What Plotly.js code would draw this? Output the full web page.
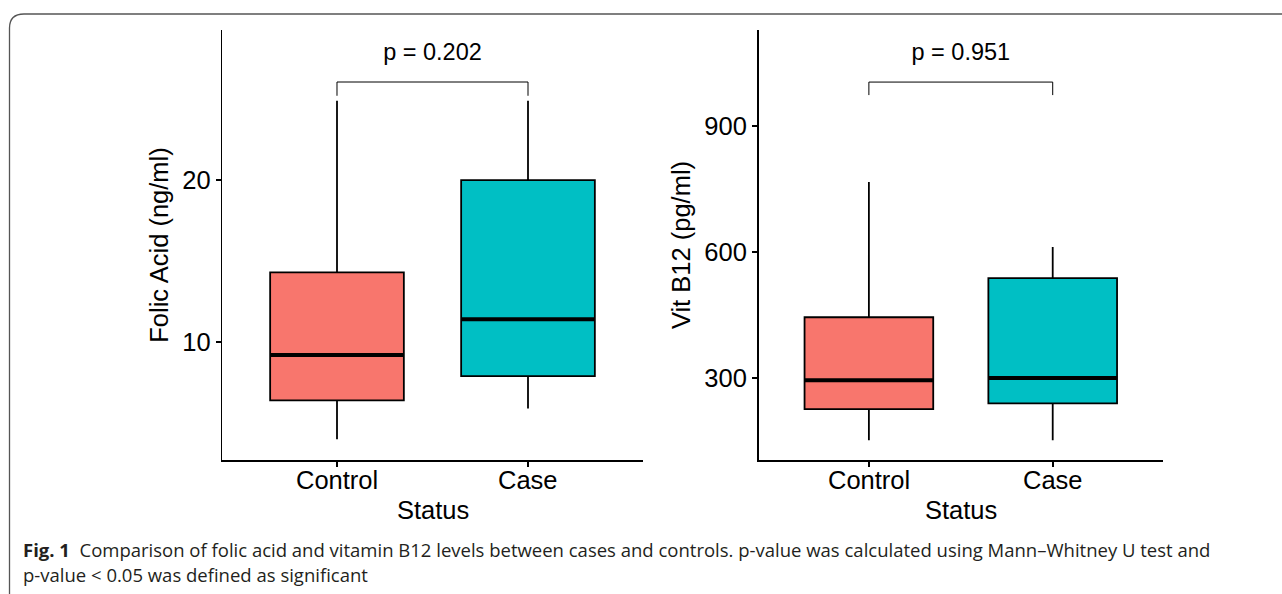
<!DOCTYPE html>
<html><head><meta charset="utf-8">
<script src="https://cdn.plot.ly/plotly-3.0.1.min.js"></script>
<style>body{margin:0;padding:0;background:#fff}#c{width:1282px;height:594px}</style>
</head><body><div id="c"></div>
<script>
// ---- data ----
const categories = ['Control', 'Case'];
const catPos = [1, 2];
const colors = ['#F8766D', '#00BFC4'];

// Folic acid (ng/ml)
const folicLower  = [4.0, 5.9];
const folicQ1     = [6.4, 7.9];
const folicMedian = [9.2, 11.4];
const folicQ3     = [14.3, 20.0];
const folicUpper  = [24.9, 24.9];
const folicP = 'p = 0.202';
const folicBracketY = 26.05;
const folicBracketTip = 25.2;
const folicTextY = 27.8;

// Vitamin B12 (pg/ml)
const b12Lower  = [152, 152];
const b12Q1     = [226, 240];
const b12Median = [295, 300];
const b12Q3     = [445, 538];
const b12Upper  = [767, 612];
const b12P = 'p = 0.951';
const b12BracketY = 1005;
const b12BracketTip = 974;
const b12TextY = 1071;

const yTicksFolic = [10, 20];
const yTicksB12 = [300, 600, 900];

const W = 1282, H = 594;
const px = v => v / W, py = v => 1 - v / H;
const boxW = 0.7;

const traces = [];
function addPanel(lower, q1, med, q3, upper, xa, ya, pText, bY, bTip, tY) {
  for (let i = 0; i < categories.length; i++) {
    traces.push({
      type: 'box', x: [catPos[i]], xaxis: xa, yaxis: ya,
      lowerfence: [lower[i]], q1: [q1[i]], median: [med[i]], q3: [q3[i]], upperfence: [upper[i]],
      width: boxW, whiskerwidth: 0,
      fillcolor: colors[i], line: {color: '#000', width: 1.8},
      showlegend: false, hoverinfo: 'skip'
    });
    traces.push({
      type: 'scatter', mode: 'lines', xaxis: xa, yaxis: ya,
      x: [catPos[i] - boxW / 2, catPos[i] + boxW / 2], y: [med[i], med[i]],
      line: {color: '#000', width: 4}, showlegend: false, hoverinfo: 'skip'
    });
  }
  traces.push({
    type: 'scatter', mode: 'lines', xaxis: xa, yaxis: ya,
    x: [catPos[0], catPos[0], catPos[1], catPos[1]], y: [bTip, bY, bY, bTip],
    line: {color: '#000', width: 1}, showlegend: false, hoverinfo: 'skip'
  });
  traces.push({
    type: 'scatter', mode: 'text', xaxis: xa, yaxis: ya,
    x: [(catPos[0] + catPos[1]) / 2], y: [tY], text: [pText],
    textfont: {family: 'Liberation Sans, Arial, sans-serif', size: 23.5, color: '#000'},
    textposition: 'middle center', showlegend: false, hoverinfo: 'skip'
  });
}
addPanel(folicLower, folicQ1, folicMedian, folicQ3, folicUpper, 'x', 'y', folicP, folicBracketY, folicBracketTip, folicTextY);
addPanel(b12Lower, b12Q1, b12Median, b12Q3, b12Upper, 'x2', 'y2', b12P, b12BracketY, b12BracketTip, b12TextY);

const font = {family: 'Liberation Sans, Arial, sans-serif', color: '#000'};
function xax(domain) {
  return {
    domain: domain, range: [0.4, 2.6], tickvals: catPos, showticklabels: false,
    showline: true, linecolor: '#000', linewidth: 1.6, ticks: 'outside', ticklen: 5, tickwidth: 1.6, tickcolor: '#000',
    showgrid: false, zeroline: false, automargin: false, fixedrange: true
  };
}
function yax(domain, range, ticks, title, anchor) {
  return {
    domain: domain, range: range, tickvals: ticks, anchor: anchor,
    showline: true, linecolor: '#000', linewidth: 1.6, ticks: 'outside', ticklen: 5, tickwidth: 1.6, tickcolor: '#000',
    showgrid: false, zeroline: false, tickfont: Object.assign({size: 25.5}, font),
    title: {text: title, font: Object.assign({size: 25.5}, font), standoff: 6}, automargin: false, fixedrange: true
  };
}
const yDom = [py(460), py(30)];
const capFont = {family: 'Open Sans, sans-serif', size: 18.5, color: '#231f20'};
const annotations = [
  {xref: 'paper', yref: 'paper', x: px(21), y: py(549), xanchor: 'left', yanchor: 'middle', showarrow: false,
   text: '<b>Fig. 1</b>  Comparison of folic acid and vitamin B12 levels between cases and controls. p-value was calculated using Mann–Whitney U test and',
   font: capFont},
  {xref: 'paper', yref: 'paper', x: px(21), y: py(574), xanchor: 'left', yanchor: 'middle', showarrow: false,
   text: 'p-value < 0.05 was defined as significant', font: capFont}
];
['x', 'x2'].forEach(xa => {
  categories.forEach((c, i) => annotations.push({
    xref: xa, yref: 'paper', x: catPos[i], y: py(480), xanchor: 'center', yanchor: 'middle', showarrow: false,
    text: c, font: Object.assign({size: 25.5}, font)
  }));
  annotations.push({
    xref: xa + ' domain', yref: 'paper', x: 0.5, y: py(510), xanchor: 'center', yanchor: 'middle', showarrow: false,
    text: 'Status', font: Object.assign({size: 25.5}, font)
  });
});
const layout = {
  width: W, height: H, margin: {l: 0, r: 0, t: 0, b: 0},
  paper_bgcolor: '#fff', plot_bgcolor: 'rgba(0,0,0,0)',
  xaxis: Object.assign(xax([px(222.4), px(642.6)]), {anchor: 'y'}),
  yaxis: yax(yDom, [2.72, 29.26], yTicksFolic, 'Folic Acid (ng/ml)', 'x'),
  xaxis2: Object.assign(xax([px(758.6), px(1163)]), {anchor: 'y2'}),
  yaxis2: yax(yDom, [105, 1129], yTicksB12, 'Vit B12 (pg/ml)', 'x2'),
  shapes: [{
    type: 'path', xref: 'paper', yref: 'paper',
    path: `M ${px(9.5)},${py(600)} L ${px(9.5)},${py(28)} Q ${px(9.5)},${py(14)} ${px(24)},${py(14)} L ${px(1290)},${py(14)}`,
    line: {color: '#555', width: 1.3}
  }],
  annotations: annotations
};
Plotly.newPlot('c', traces, layout, {staticPlot: true, displayModeBar: false});
</script></body></html>
